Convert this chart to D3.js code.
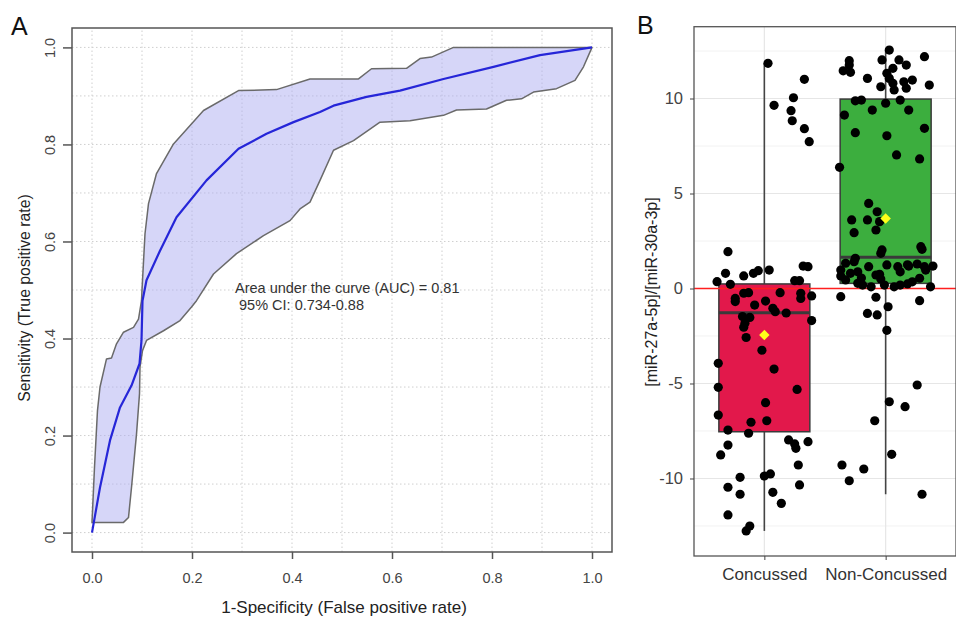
<!DOCTYPE html>
<html>
<head>
<meta charset="utf-8">
<script src="https://cdn.jsdelivr.net/npm/d3@7"></script>
<style>
  body { margin: 0; background: #fff; }
  text { font-family: "Liberation Sans", Arial, sans-serif; }
</style>
</head>
<body>
<svg id="chart" width="956" height="617"></svg>
<script>
// ---------- Panel A: ROC curve with 95% confidence band ----------
const rocFpr = [0, 0.016, 0.036, 0.056, 0.079, 0.095, 0.099, 0.101, 0.109, 0.136, 0.169, 0.229, 0.293, 0.349, 0.403, 0.456, 0.483, 0.549, 0.616, 0.703, 0.803, 0.896, 1];
const rocTpr = [0, 0.093, 0.19, 0.258, 0.303, 0.348, 0.396, 0.478, 0.52, 0.581, 0.65, 0.726, 0.791, 0.822, 0.846, 0.867, 0.88, 0.898, 0.911, 0.935, 0.96, 0.984, 1];

const ciUpperFpr = [0, 0.005, 0.011, 0.016, 0.029, 0.039, 0.049, 0.063, 0.083, 0.093, 0.099, 0.1, 0.106, 0.113, 0.129, 0.163, 0.223, 0.293, 0.369, 0.436, 0.533, 0.559, 0.629, 0.656, 0.679, 0.723, 1];
const ciUpperTpr = [0.021, 0.135, 0.252, 0.3, 0.358, 0.36, 0.389, 0.413, 0.423, 0.44, 0.478, 0.5, 0.616, 0.678, 0.74, 0.801, 0.87, 0.911, 0.913, 0.935, 0.935, 0.956, 0.957, 0.977, 0.98, 1, 1];

const ciLowerFpr = [0, 0.063, 0.073, 0.079, 0.089, 0.095, 0.096, 0.101, 0.109, 0.143, 0.176, 0.199, 0.209, 0.243, 0.289, 0.343, 0.396, 0.416, 0.436, 0.456, 0.483, 0.523, 0.576, 0.636, 0.703, 0.729, 0.789, 0.829, 0.859, 0.883, 0.929, 0.966, 0.983, 1];
const ciLowerTpr = [0.021, 0.021, 0.031, 0.093, 0.203, 0.286, 0.341, 0.375, 0.396, 0.416, 0.437, 0.465, 0.478, 0.533, 0.575, 0.612, 0.643, 0.667, 0.681, 0.726, 0.788, 0.808, 0.846, 0.849, 0.86, 0.871, 0.873, 0.891, 0.894, 0.908, 0.915, 0.932, 0.96, 1];

const rocTicks = [0, 0.2, 0.4, 0.6, 0.8, 1.0];
const rocGrid = [0, 0.1, 0.2, 0.3, 0.4, 0.5, 0.6, 0.7, 0.8, 0.9, 1.0];
const aucLines = ["Area under the curve (AUC) = 0.81", " 95% CI: 0.734-0.88"];
const aucTextPos = [0.286, 0.493];

// ---------- Panel B: ratio by group ----------
const groups = ["Concussed", "Non-Concussed"];
const groupColors = ["#e2184b", "#3cae3e"];

const concussedValues = [11.85, 9.64, 10.04, 9.36, 8.83, 11.01, 8.41, 7.73, 1.94, 0.80, 0.36, 0.22, 0.66, 0.80, 0.94, 0.97, 1.18, 1.15, 0.41, 0.41, -0.25, -0.39, -0.22, -0.52, -0.69, -0.25, -0.22, -0.66, -0.87, -1.04, -1.22, -1.29, -0.52, -1.69, -1.48, -1.52, -1.83, -2.04, -2.58, -3.25, -3.94, -4.24, -5.20, -5.31, -6.01, -6.66, -7.04, -6.96, -7.45, -7.62, -7.97, -8.18, -8.41, -8.06, -8.24, -8.76, -9.29, -9.94, -9.87, -9.76, -10.46, -10.34, -10.83, -10.73, -11.31, -11.92, -12.50, -12.76];
const concussedJitter = [0.03, 0.08, 0.24, 0.22, 0.23, 0.33, 0.33, 0.37, -0.30, -0.32, -0.39, -0.28, -0.17, -0.09, -0.05, 0.04, 0.32, 0.36, 0.25, 0.29, 0.30, 0.39, 0.13, -0.24, -0.24, -0.17, -0.13, 0.01, -0.08, 0.07, 0.09, 0.18, 0.30, 0.39, -0.18, -0.12, -0.16, -0.17, -0.15, -0.02, -0.38, 0.08, -0.38, 0.27, 0.01, -0.38, -0.11, 0.02, -0.30, -0.13, 0.20, 0.25, 0.26, 0.36, -0.30, -0.36, 0.28, -0.20, 0.00, 0.05, -0.30, 0.29, -0.20, 0.07, 0.14, -0.30, -0.12, -0.15];

const nonConcussedValues = [12.55, 12.03, 12.03, 12.20, 11.99, 11.76, 11.46, 11.38, 11.76, 11.59, 11.33, 11.06, 11.06, 10.97, 10.88, 10.80, 10.71, 10.62, 10.54, 10.45, 9.92, 9.88, 9.92, 9.75, 9.39, 9.39, 9.13, 8.20, 8.04, 8.43, 7.03, 6.82, 6.38, 4.48, 4.04, 3.61, 3.61, 3.52, 3.08, 2.94, 2.20, 2.06, 2.03, 1.85, 1.59, 1.41, 0.97, 0.66, 0.80, 1.15, 1.24, 1.15, 0.88, 1.18, 1.29, 1.15, 1.18, 0.97, 0.54, 0.71, 0.88, 0.45, 0.50, 0.27, 0.18, 0.09, 0.18, 0.09, 0.18, 0.24, 0.09, 1.33, 1.25, 0.75, 0.35, 0.55, -0.43, -0.46, -0.64, -0.96, -1.31, -1.39, -2.20, -5.08, -5.96, -6.22, -6.96, -8.73, -9.29, -9.50, -10.12, -10.83];
const nonConcussedJitter = [0.03, -0.03, 0.11, 0.32, -0.30, -0.30, -0.35, -0.29, 0.17, 0.06, 0.01, 0.03, -0.15, 0.22, 0.15, 0.06, 0.36, -0.04, 0.17, 0.07, 0.12, -0.25, -0.20, 0.00, -0.11, 0.19, -0.34, -0.25, 0.01, 0.32, 0.09, 0.28, -0.38, -0.14, -0.07, -0.28, -0.15, -0.05, -0.08, -0.26, 0.29, 0.30, -0.03, -0.04, -0.25, -0.26, -0.37, -0.37, -0.29, -0.14, 0.01, 0.10, 0.12, 0.19, 0.26, 0.32, 0.39, 0.33, 0.28, -0.08, -0.23, -0.33, -0.04, -0.23, -0.19, -0.12, -0.01, 0.07, 0.12, 0.18, 0.37, -0.33, 0.18, -0.05, 0.22, -0.20, -0.37, -0.08, 0.28, 0.02, -0.15, -0.07, 0.01, 0.26, 0.03, 0.16, -0.09, 0.05, -0.36, -0.18, -0.30, 0.30];

const boxQ1 = [-7.54, 0.27];
const boxMedian = [-1.27, 1.64];
const boxQ3 = [0.24, 9.97];
const whiskerLow = [-12.76, -10.83];
const whiskerHigh = [11.85, 12.55];
const groupMeans = [-2.45, 3.69];

const ratioTicks = [-10, -5, 0, 5, 10];
const ratioMinor = [-12.5, -7.5, -2.5, 2.5, 7.5, 12.5];

(function draw() {
  const svg = d3.select("#chart");
  const font = '"Liberation Sans", Arial, sans-serif';

  // ================= Panel A =================
  const ax = d3.scaleLinear().domain([-0.04, 1.04]).range([72, 612]);
  const ay = d3.scaleLinear().domain([-0.04, 1.04]).range([552, 28]);
  const gA = svg.append("g");

  // dotted grid
  gA.selectAll("line.vg").data(rocGrid).join("line")
    .attr("x1", d => ax(d)).attr("x2", d => ax(d))
    .attr("y1", ay(-0.04)).attr("y2", ay(1.04))
    .attr("stroke", "#cfcfcf").attr("stroke-width", 1).attr("stroke-dasharray", "1.5,2.5");
  gA.selectAll("line.hg").data(rocGrid).join("line")
    .attr("y1", d => ay(d)).attr("y2", d => ay(d))
    .attr("x1", ax(-0.04)).attr("x2", ax(1.04))
    .attr("stroke", "#cfcfcf").attr("stroke-width", 1).attr("stroke-dasharray", "1.5,2.5");

  // confidence band: upper edge left to right, then lower edge back
  const upperPts = ciUpperFpr.map((f, i) => [f, ciUpperTpr[i]]);
  const lowerPts = ciLowerFpr.map((f, i) => [f, ciLowerTpr[i]]).reverse();
  const xyLine = d3.line().x(d => ax(d[0])).y(d => ay(d[1]));
  gA.append("path")
    .attr("d", xyLine(upperPts.concat(lowerPts)) + "Z")
    .attr("fill", "#aeaef2").attr("fill-opacity", 0.5)
    .attr("stroke", "#6a6a6a").attr("stroke-width", 1.5).attr("stroke-linejoin", "round");

  // ROC curve
  const rocPts = rocFpr.map((f, i) => [f, rocTpr[i]]);
  gA.append("path")
    .attr("d", xyLine(rocPts))
    .attr("fill", "none").attr("stroke", "#2626d8").attr("stroke-width", 2.2)
    .attr("stroke-linejoin", "round");

  // frame
  gA.append("rect")
    .attr("x", ax(-0.04)).attr("y", ay(1.04))
    .attr("width", ax(1.04) - ax(-0.04)).attr("height", ay(-0.04) - ay(1.04))
    .attr("fill", "none").attr("stroke", "#555").attr("stroke-width", 1.5);

  // axes
  const xAxisA = d3.axisBottom(ax).tickValues(rocTicks).tickFormat(d3.format(".1f")).tickSize(7).tickPadding(14);
  const gxA = gA.append("g").attr("transform", `translate(0,${ay(-0.04)})`).call(xAxisA);
  gxA.select(".domain").remove();
  gxA.selectAll(".tick line").attr("stroke", "#555").attr("stroke-width", 1.5);
  gxA.selectAll(".tick text").attr("fill", "#444").style("font-size", "14.5px").style("font-family", font);

  const yAxisA = d3.axisLeft(ay).tickValues(rocTicks).tickFormat(d3.format(".1f")).tickSize(9);
  const gyA = gA.append("g").attr("transform", `translate(${ax(-0.04)},0)`).call(yAxisA);
  gyA.select(".domain").remove();
  gyA.selectAll(".tick line").attr("stroke", "#555").attr("stroke-width", 1.5);
  gyA.selectAll(".tick text")
    .attr("x", null).attr("dy", null)
    .attr("text-anchor", "middle")
    .attr("transform", "translate(-17,0) rotate(-90)")
    .attr("fill", "#444").style("font-size", "14.5px").style("font-family", font);

  // axis titles
  gA.append("text").attr("x", 344).attr("y", 613).attr("text-anchor", "middle")
    .attr("fill", "#222").style("font-size", "17px").text("1-Specificity (False positive rate)");
  gA.append("text").attr("transform", "translate(30,298) rotate(-90)").attr("text-anchor", "middle")
    .attr("fill", "#222").style("font-size", "15.8px").text("Sensitivity (True positive rate)");

  // AUC annotation
  gA.selectAll("text.auc").data(aucLines).join("text")
    .attr("x", ax(aucTextPos[0])).attr("y", (d, i) => ay(aucTextPos[1]) + i * 16.5)
    .attr("fill", "#333").style("font-size", "14.5px")
    .style("white-space", "pre").text(d => d);

  // panel letter
  svg.append("text").attr("x", 11).attr("y", 35).attr("fill", "#111").style("font-size", "25px").text("A");

  // ================= Panel B =================
  const bx = d3.scalePoint().domain(groups).range([694, 956]).padding(0.58);
  const step = bx.step();
  const by = d3.scaleLinear().domain([-14.08, 13.78]).range([556, 26.7]);
  const gB = svg.append("g");
  const pLeft = 694, pRight = 956, pTop = by(13.78), pBottom = by(-14.08);

  // grid
  gB.selectAll("line.minor").data(ratioMinor).join("line")
    .attr("x1", pLeft).attr("x2", pRight).attr("y1", d => by(d)).attr("y2", d => by(d))
    .attr("stroke", "#f2f2f2").attr("stroke-width", 1);
  gB.selectAll("line.major").data(ratioTicks).join("line")
    .attr("x1", pLeft).attr("x2", pRight).attr("y1", d => by(d)).attr("y2", d => by(d))
    .attr("stroke", "#e6e6e6").attr("stroke-width", 1.2);
  gB.selectAll("line.vmajor").data(groups).join("line")
    .attr("x1", d => bx(d)).attr("x2", d => bx(d)).attr("y1", pTop).attr("y2", pBottom)
    .attr("stroke", "#e6e6e6").attr("stroke-width", 1.2);

  // boxplots
  const boxW = step * 0.75;
  groups.forEach((g, i) => {
    const cx = bx(g);
    gB.append("line").attr("x1", cx).attr("x2", cx).attr("y1", by(whiskerHigh[i])).attr("y2", by(boxQ3[i]))
      .attr("stroke", "#444").attr("stroke-width", 1.6);
    gB.append("line").attr("x1", cx).attr("x2", cx).attr("y1", by(boxQ1[i])).attr("y2", by(whiskerLow[i]))
      .attr("stroke", "#444").attr("stroke-width", 1.6);
    gB.append("rect").attr("x", cx - boxW / 2).attr("width", boxW)
      .attr("y", by(boxQ3[i])).attr("height", by(boxQ1[i]) - by(boxQ3[i]))
      .attr("fill", groupColors[i]).attr("stroke", "#3a3a3a").attr("stroke-width", 1.5);
    gB.append("line").attr("x1", cx - boxW / 2).attr("x2", cx + boxW / 2)
      .attr("y1", by(boxMedian[i])).attr("y2", by(boxMedian[i]))
      .attr("stroke", "#3a3a3a").attr("stroke-width", 3);
  });

  // reference line at zero
  gB.append("line").attr("x1", pLeft).attr("x2", pRight).attr("y1", by(0)).attr("y2", by(0))
    .attr("stroke", "#ff1f1f").attr("stroke-width", 1.6);

  // jittered observations
  const pts = [];
  concussedValues.forEach((v, i) => pts.push({ g: groups[0], v, j: concussedJitter[i] }));
  nonConcussedValues.forEach((v, i) => pts.push({ g: groups[1], v, j: nonConcussedJitter[i] }));
  gB.selectAll("circle.pt").data(pts).join("circle")
    .attr("cx", d => bx(d.g) + d.j * step).attr("cy", d => by(d.v))
    .attr("r", 4.6).attr("fill", "#000");

  // group means
  gB.selectAll("path.mean").data(groups).join("path")
    .attr("d", d3.symbol(d3.symbolDiamond2, 70))
    .attr("transform", (d, i) => `translate(${bx(d)},${by(groupMeans[i])})`)
    .attr("fill", "#ffff1a");

  // panel frame
  gB.append("rect").attr("x", pLeft).attr("y", pTop).attr("width", pRight - pLeft).attr("height", pBottom - pTop)
    .attr("fill", "none").attr("stroke", "#555").attr("stroke-width", 1.3);

  // axes (plain hyphen for negative labels)
  const yAxisB = d3.axisLeft(by).tickValues(ratioTicks).tickFormat(d => String(d)).tickSize(4).tickPadding(7);
  const gyB = gB.append("g").attr("transform", `translate(${pLeft},0)`).call(yAxisB);
  gyB.select(".domain").remove();
  gyB.selectAll(".tick line").attr("stroke", "#444");
  gyB.selectAll(".tick text").attr("fill", "#444").style("font-size", "16.5px").style("font-family", font);

  const xAxisB = d3.axisBottom(bx).tickSize(4).tickPadding(8);
  const gxB = gB.append("g").attr("transform", `translate(0,${pBottom})`).call(xAxisB);
  gxB.select(".domain").remove();
  gxB.selectAll(".tick line").attr("stroke", "#444");
  gxB.selectAll(".tick text").attr("fill", "#333").style("font-size", "17px").style("font-family", font);

  gB.append("text").attr("transform", "translate(657,292) rotate(-90)").attr("text-anchor", "middle")
    .attr("fill", "#222").style("font-size", "16px").text("[miR-27a-5p]/[miR-30a-3p]");

  svg.append("text").attr("x", 637).attr("y", 34).attr("fill", "#111").style("font-size", "25px").text("B");
})();
</script>
</body>
</html>
